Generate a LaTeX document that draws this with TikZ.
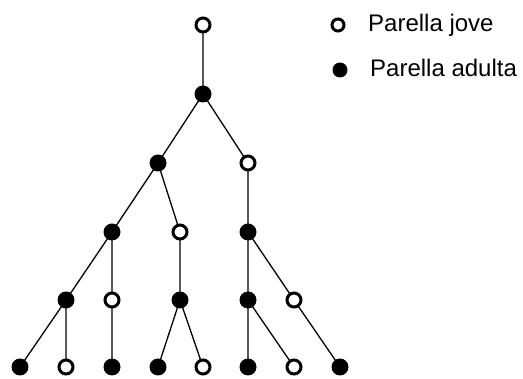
\documentclass[tikz,border=0pt]{standalone}
\usepackage{fontspec}
\setmainfont{Liberation Sans}
\begin{document}
\begin{tikzpicture}[x=1pt,y=-1pt,
  jove/.style={circle,draw=black,fill=white,line width=3pt,minimum size=14pt,inner sep=0pt},
  adulta/.style={circle,fill=black,minimum size=17pt,inner sep=0pt},
  edge/.style={line width=1.3pt},
  lbl/.style={anchor=base west,inner sep=0pt,font=\fontsize{24}{28}\selectfont}]
\useasboundingbox (0,0) rectangle (523,379);
% edges drawn first
\coordinate (a0) at (203,25);
\coordinate (a1) at (203,94);
\coordinate (b1) at (158,163);
\coordinate (b2) at (248,163);
\coordinate (c1) at (112,232);
\coordinate (c2) at (180,232);
\coordinate (c3) at (248,232);
\coordinate (d1) at (66,300);
\coordinate (d2) at (112,300);
\coordinate (d3) at (180,300);
\coordinate (d4) at (248,300);
\coordinate (d5) at (294,300);
\coordinate (e1) at (20,367);
\coordinate (e2) at (66,367);
\coordinate (e3) at (112,367);
\coordinate (e4) at (158,367);
\coordinate (e5) at (203,367);
\coordinate (e6) at (248,367);
\coordinate (e7) at (294,367);
\coordinate (e8) at (340,367);
\draw[edge] (a0)--(a1) (a1)--(b1) (a1)--(b2)
  (b1)--(c1) (b1)--(c2) (b2)--(c3)
  (c1)--(d1) (c1)--(d2) (c2)--(d3) (c3)--(d4) (c3)--(d5)
  (d1)--(e1) (d1)--(e2) (d2)--(e3) (d3)--(e4) (d3)--(e5)
  (d4)--(e6) (d4)--(e7) (d5)--(e8);
\node[jove] (n0) at (a0) {};
\node[adulta] (n1) at (a1) {};
\node[adulta] (m1) at (b1) {};
\node[jove] (m2) at (b2) {};
\node[adulta] (k1) at (c1) {};
\node[jove] (k2) at (c2) {};
\node[adulta] (k3) at (c3) {};
\node[adulta] (p1) at (d1) {};
\node[jove] (p2) at (d2) {};
\node[adulta] (p3) at (d3) {};
\node[adulta] (p4) at (d4) {};
\node[jove] (p5) at (d5) {};
\node[adulta] (q1) at (e1) {};
\node[jove] (q2) at (e2) {};
\node[adulta] (q3) at (e3) {};
\node[adulta] (q4) at (e4) {};
\node[jove] (q5) at (e5) {};
\node[adulta] (q6) at (e6) {};
\node[jove] (q7) at (e7) {};
\node[adulta] (q8) at (e8) {};
% legend
\node[jove,minimum size=12pt] (lj) at (338,25) {};
\node[adulta,minimum size=15pt] (la) at (340,70) {};
\node[lbl] (tj) at (368,32) {Parella jove};
\node[lbl] (ta) at (370,77) {Parella adulta};
\end{tikzpicture}
\end{document}
